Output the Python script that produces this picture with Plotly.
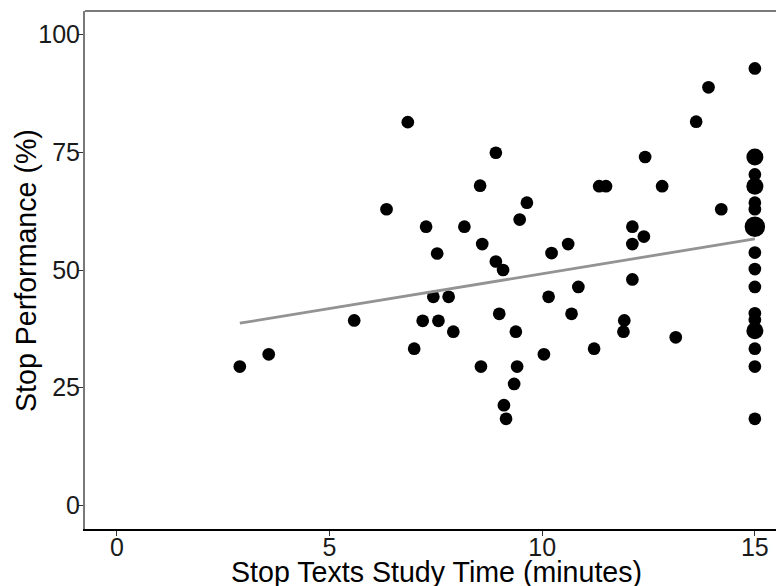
import plotly.graph_objects as go

# ---- data ----
study_time = [2.89, 3.57, 5.58, 6.34, 6.84, 6.99, 7.19, 7.27, 7.44, 7.53,
              7.56, 7.80, 7.91, 8.17, 8.54, 8.56, 8.59, 8.91, 8.91, 8.99,
              9.08, 9.10, 9.15, 9.34, 9.38, 9.41, 9.47, 9.64, 10.04, 10.15,
              10.22, 10.61, 10.69, 10.85, 11.22, 11.34, 11.50, 11.91, 11.93, 12.12,
              12.12, 12.12, 12.39, 12.42, 12.82, 13.14, 13.62, 13.91, 14.21,
              15, 15, 15, 15, 15, 15, 15, 15, 15, 15, 15, 15, 15, 15, 15, 15]
performance = [29.5, 32.1, 39.3, 62.9, 81.4, 33.3, 39.2, 59.2, 44.3, 53.5,
               39.2, 44.3, 36.9, 59.2, 67.9, 29.5, 55.5, 74.9, 51.8, 40.7,
               50.0, 21.3, 18.4, 25.8, 36.9, 29.5, 60.7, 64.3, 32.1, 44.3,
               53.6, 55.5, 40.7, 46.4, 33.3, 67.8, 67.8, 36.9, 39.3, 48.0,
               55.5, 59.2, 57.1, 74.0, 67.8, 35.7, 81.5, 88.8, 62.9,
               92.8, 74.0, 70.3, 67.8, 64.3, 62.9, 59.2, 53.7, 50.2, 46.4,
               40.8, 39.4, 37.1, 33.3, 29.5, 18.4]
counts = [1] * 49 + [1, 2, 1, 2, 1, 1, 3, 1, 1, 1, 1, 1, 2, 1, 1, 1]

fit_intercept = 34.43
fit_slope = 1.478

x_ticks = [0, 5, 10, 15]
y_ticks = [0, 25, 50, 75, 100]

# ---- styling ----
size_for_count = {1: 12.7, 2: 17.0, 3: 20.5}
sizes = [size_for_count[c] for c in counts]
FONT = "Arial, Liberation Sans, sans-serif"

fit_x = [min(study_time), max(study_time)]
fit_y = [fit_intercept + fit_slope * v for v in fit_x]

fig = go.Figure()
fig.add_trace(go.Scatter(
    x=study_time, y=performance, mode="markers",
    marker=dict(color="black", size=sizes, opacity=1, line=dict(width=0)),
    opacity=1, hoverinfo="x+y", showlegend=False))
fig.add_trace(go.Scatter(
    x=fit_x, y=fit_y, mode="lines",
    line=dict(color="#939393", width=2.8),
    hoverinfo="skip", showlegend=False))

fig.update_layout(
    width=776, height=586,
    margin=dict(l=85, r=0, t=11, b=57),
    paper_bgcolor="white", plot_bgcolor="white",
    font=dict(family=FONT, color="#1a1a1a"),
    xaxis=dict(range=[-0.75, 15.497], tickvals=x_ticks, showgrid=False,
               zeroline=False, showline=True, linecolor="black", linewidth=1.5,
               ticks="outside", ticklen=5, tickwidth=1.2, tickcolor="#333",
               ticklabelstandoff=-10,
               tickfont=dict(size=25, family=FONT, color="#1a1a1a")),
    yaxis=dict(range=[-5, 105], tickvals=y_ticks, showgrid=False,
               zeroline=False, showline=True, linecolor="#7a7a7a", linewidth=2,
               ticks="outside", ticklen=5, tickwidth=1.2, tickcolor="#333",
               ticklabelstandoff=-7,
               tickfont=dict(size=25, family=FONT, color="#1a1a1a")),
    shapes=[dict(type="line", xref="paper", yref="paper", x0=0, x1=1, y0=1, y1=1,
                 line=dict(color="#7a7a7a", width=2))],
    annotations=[
        dict(text="Stop Texts Study Time (minutes)", xref="paper", yref="paper",
             x=0.5094, y=0, xanchor="center", yanchor="top", yshift=-25,
             showarrow=False, font=dict(size=28.6, family=FONT, color="black")),
        dict(text="Stop Performance (%)", xref="paper", yref="paper",
             x=-0.0854, y=0.5, xanchor="center", yanchor="middle", textangle=-90,
             showarrow=False, font=dict(size=28.6, family=FONT, color="black")),
    ],
)

fig.write_html("out.html")
